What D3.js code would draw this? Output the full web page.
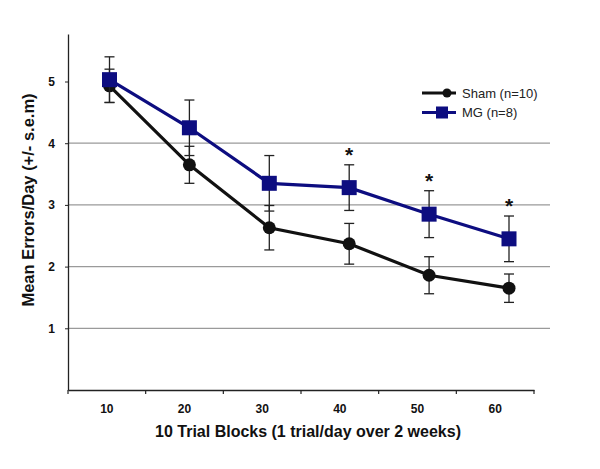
<html>
<head>
<script src="https://d3js.org/d3.v7.min.js"></script>
<style>
  body { margin:0; background:#fff; }
  text { font-family: Arial, "Liberation Sans", sans-serif; }
</style>
</head>
<body>
<svg id="plot"></svg>
<script>

// trial blocks
var blocks = [10, 20, 30, 40, 50, 60];

// mean errors per day
var shamMean = [4.93, 3.65, 2.63, 2.37, 1.86, 1.65];
var shamSem  = [0.27, 0.30, 0.36, 0.33, 0.30, 0.23];
var mgMean   = [5.03, 4.25, 3.35, 3.28, 2.85, 2.45];
var mgSem    = [0.37, 0.45, 0.45, 0.37, 0.38, 0.37];

// which blocks are significant
var starred = [40, 50, 60];

var yTicks = [1, 2, 3, 4, 5];

var screen = {width:600, height:469};
var svg = d3.select("#plot")
    .attr("width", screen.width)
    .attr("height", screen.height);

// axis band for the tick labels
var xBand = d3.scaleBand()
    .domain(blocks)
    .range([68, 534]);

// the points drift a little from the labels in the original
var xScale = d3.scaleLinear()
    .domain([10, 60])
    .range([109.5, 509]);

var yScale = d3.scaleLinear()
    .domain([0, 5.77])
    .range([390, 34]);

var navy = "#0d0d80";

//gridlines
svg.append("g")
    .selectAll("line")
    .data(yTicks.slice(0, 4))
    .enter()
    .append("line")
    .attr("x1", 68)
    .attr("x2", 550)
    .attr("y1", function(d) { return yScale(d); })
    .attr("y2", function(d) { return yScale(d); })
    .attr("stroke", "#9a9a9a")
    .attr("stroke-width", 1.2);

//axes
var yAxis = d3.axisLeft(yScale)
    .tickValues(yTicks)
    .tickFormat(d3.format("d"))
    .tickSize(3)
    .tickPadding(10)
    .tickSizeOuter(0);

var gy = svg.append("g")
    .attr("transform", "translate(68,0)")
    .call(yAxis);
gy.select(".domain").attr("stroke", "#222").attr("stroke-width", 1.3);
gy.selectAll("line").attr("stroke", "#222");
gy.selectAll("text")
    .attr("font-size", 12)
    .attr("font-weight", "bold")
    .attr("fill", "#111");

var xAxis = d3.axisBottom(xBand)
    .tickSize(0)
    .tickPadding(14);

var gx = svg.append("g")
    .attr("transform", "translate(0,390)")
    .call(xAxis);
gx.select(".domain").attr("stroke", "#222").attr("stroke-width", 1.3);
gx.selectAll("text")
    .attr("font-size", 12)
    .attr("font-weight", "bold")
    .attr("fill", "#111");

// tick marks between the bands
svg.append("g")
    .selectAll("line")
    .data(blocks.concat(["end"]))
    .enter()
    .append("line")
    .attr("x1", function(d) { return d == "end" ? xBand.range()[1] : xBand(d); })
    .attr("x2", function(d) { return d == "end" ? xBand.range()[1] : xBand(d); })
    .attr("y1", 390)
    .attr("y2", 394)
    .attr("stroke", "#222")
    .attr("stroke-width", 1.2);

//labels
svg.append("text")
    .text("10 Trial Blocks (1 trial/day over 2 weeks)")
    .attr("x", 308)
    .attr("y", 437)
    .attr("text-anchor", "middle")
    .attr("font-size", 16)
    .attr("font-weight", "bold")
    .attr("fill", "#111");

svg.append("g")
    .attr("transform", "translate(34,200)")
    .append("text")
    .text("Mean Errors/Day (+/- s.e.m)")
    .attr("transform", "rotate(-90)")
    .attr("text-anchor", "middle")
    .attr("font-size", 16.5)
    .attr("font-weight", "bold")
    .attr("fill", "#111");

// series
var makeSeries = function(means, sems, color, shape)
{
    var rows = blocks.map(function(b, i) {
        return {x:b, y:means[i], e:sems[i]};
    });

    var g = svg.append("g");

    var bars = g.selectAll(".bar")
        .data(rows)
        .enter()
        .append("g")
        .attr("stroke", "#222")
        .attr("stroke-width", 1.3);
    bars.append("line")
        .attr("x1", function(d) { return xScale(d.x); })
        .attr("x2", function(d) { return xScale(d.x); })
        .attr("y1", function(d) { return yScale(d.y + d.e); })
        .attr("y2", function(d) { return yScale(d.y - d.e); });
    [1, -1].forEach(function(s) {
        bars.append("line")
            .attr("x1", function(d) { return xScale(d.x) - 5; })
            .attr("x2", function(d) { return xScale(d.x) + 5; })
            .attr("y1", function(d) { return yScale(d.y + s * d.e); })
            .attr("y2", function(d) { return yScale(d.y + s * d.e); });
    });

    var line = d3.line()
        .x(function(d) { return xScale(d.x); })
        .y(function(d) { return yScale(d.y); });

    g.append("path")
        .datum(rows)
        .attr("d", line)
        .attr("fill", "none")
        .attr("stroke", color)
        .attr("stroke-width", 3.2);

    if (shape == "circle") {
        g.selectAll(".pt")
            .data(rows)
            .enter()
            .append("circle")
            .attr("cx", function(d) { return xScale(d.x); })
            .attr("cy", function(d) { return yScale(d.y); })
            .attr("r", 6.5)
            .attr("fill", color);
    } else {
        g.selectAll(".pt")
            .data(rows)
            .enter()
            .append("rect")
            .attr("x", function(d) { return xScale(d.x) - 7.5; })
            .attr("y", function(d) { return yScale(d.y) - 7.5; })
            .attr("width", 15)
            .attr("height", 15)
            .attr("fill", color);
    }
    return rows;
}

makeSeries(shamMean, shamSem, "#111", "circle");
var mgRows = makeSeries(mgMean, mgSem, navy, "square");

// asterisks
svg.append("g")
    .selectAll("text")
    .data(mgRows.filter(function(d) { return starred.indexOf(d.x) >= 0; }))
    .enter()
    .append("text")
    .text("*")
    .attr("x", function(d) { return xScale(d.x); })
    .attr("y", function(d) { return yScale(d.y + d.e) - 3; })
    .attr("text-anchor", "middle")
    .attr("font-size", 21)
    .attr("font-weight", "bold")
    .attr("fill", "#111");

//legend
var legend = svg.append("g").attr("transform", "translate(422,0)");
var legItems = [
    {name:"Sham (n=10)", color:"#111", shape:"circle", y:93},
    {name:"MG (n=8)", color:navy, shape:"square", y:112.5}
];
legItems.forEach(function(it) {
    legend.append("line")
        .attr("x1", 0).attr("x2", 34)
        .attr("y1", it.y).attr("y2", it.y)
        .attr("stroke", it.color)
        .attr("stroke-width", 3);
    if (it.shape == "circle") {
        legend.append("circle")
            .attr("cx", 25).attr("cy", it.y).attr("r", 4.5)
            .attr("fill", it.color);
    } else {
        legend.append("rect")
            .attr("x", 14).attr("y", it.y - 6)
            .attr("width", 12).attr("height", 12)
            .attr("fill", it.color);
    }
    legend.append("text")
        .text(it.name)
        .attr("x", 40)
        .attr("y", it.y + 4.5)
        .attr("font-size", 13)
        .attr("fill", "#222");
});

</script>
</body>
</html>
